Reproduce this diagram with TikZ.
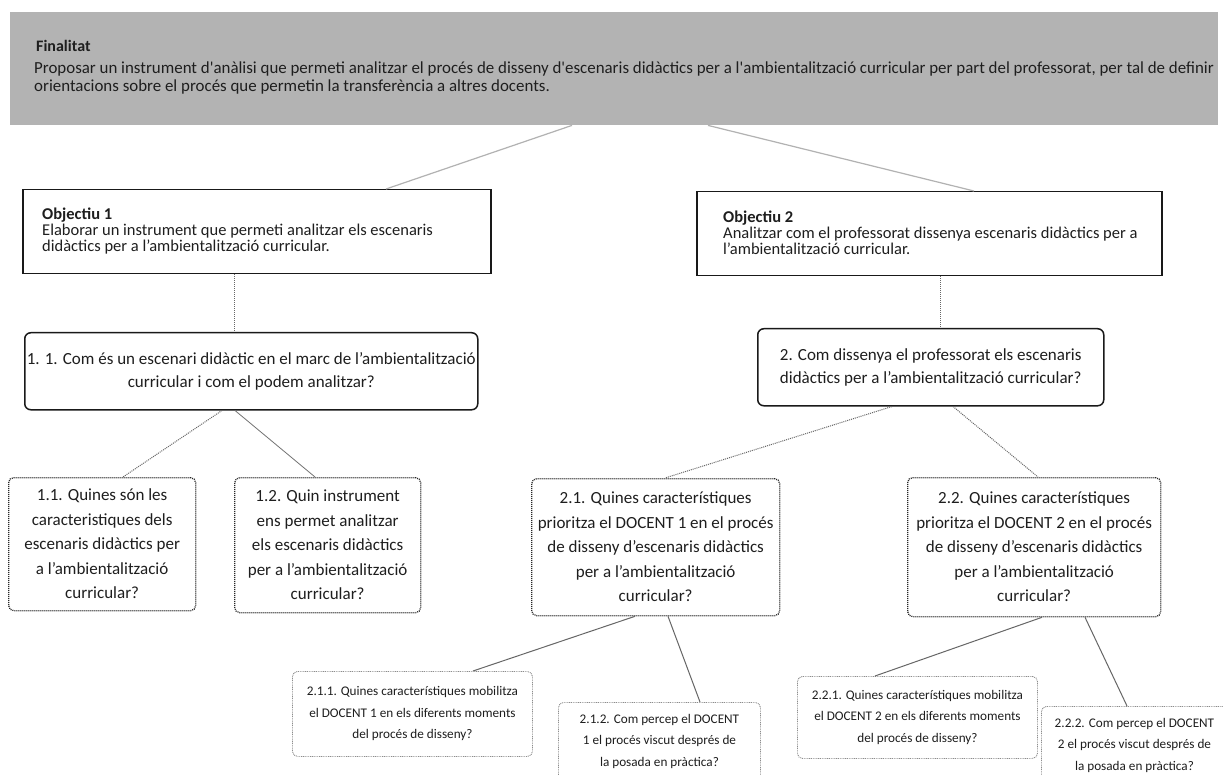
\documentclass[tikz,border=0pt]{standalone}
\usepackage{fontspec}
\setmainfont{Carlito}
\definecolor{bannergray}{RGB}{179,179,179}
\definecolor{txt}{RGB}{30,30,30}
\begin{document}
\begin{tikzpicture}[x=1pt,y=-1pt,
  every node/.style={text=txt},
  banner/.style={fill=bannergray, draw=none, anchor=north west, inner sep=0pt,
    minimum width=1208pt, minimum height=113pt},
  objbox/.style={draw=black!90, line width=1.5pt, anchor=north west, inner sep=0pt},
  objtext/.style={anchor=west, align=left, inner sep=0pt,
    font={\fontsize{16.5}{15.8}\selectfont}},
  qbox/.style={draw=black!90, line width=1.5pt, rounded corners=6pt, anchor=north west,
    align=center, inner sep=0pt, font={\fontsize{17}{23}\selectfont}},
  subbox/.style={draw=black!85, line width=1.3pt, dash pattern=on 1pt off 1pt,
    rounded corners=5pt, anchor=north west, align=center, inner sep=0pt,
    font={\fontsize{17}{24.5}\selectfont}},
  leafbox/.style={draw=black!45, line width=0.9pt, dash pattern=on 0.9pt off 0.9pt,
    rounded corners=5pt, anchor=north west, align=center, inner sep=0pt,
    font={\fontsize{13.2}{21.5}\selectfont}},
  lightlink/.style={draw=black!30, line width=1.2pt},
  dotlink/.style={draw=black!60, line width=1pt, dash pattern=on 1pt off 1pt},
  thinlink/.style={draw=black!55, line width=0.8pt},
  leaflink/.style={draw=black!60, line width=1pt}]

\useasboundingbox (0,0) rectangle (1223,775);
\fill[white] (0,0) rectangle (1223,775);
\clip (0,0) rectangle (1223,775);

% purpose banner
\node[banner] (fin) at (10,12) {};
\node[anchor=west, inner sep=0pt, font={\fontsize{16}{18}\bfseries\selectfont}] (fintitle) at (36,46) {Finalitat};
\node[anchor=north west, align=left, inner sep=0pt, font={\fontsize{16.9}{18}\selectfont}] (fintext) at (34,62)
  {Proposar un instrument d\textquotesingle anàlisi que permeti analitzar el procés de disseny d\textquotesingle escenaris didàctics per a l\textquotesingle ambientalització curricular per part del professorat, per tal de definir\\
   orientacions sobre el procés que permetin la transferència a altres docents.};

% objectives
\node[objbox, minimum width=468pt, minimum height=84pt] (obj1) at (22,189) {};
\node[objtext] (obj1txt) at (42,231) {\textbf{Objectiu 1}\\Elaborar un instrument que permeti analitzar els escenaris\\didàctics per a l’ambientalització curricular.};
\node[objbox, minimum width=465pt, minimum height=84pt] (obj2) at (696,191) {};
\node[objtext] (obj2txt) at (723,233) {\textbf{Objectiu 2}\\Analitzar com el professorat dissenya escenaris didàctics per a\\l’ambientalització curricular.};

% research questions
\node[qbox, minimum width=453pt, minimum height=77pt] (q1) at (24,332)
  {1. 1. Com és un escenari didàctic en el marc de l’ambientalització\\curricular i com el podem analitzar?};
\node[qbox, minimum width=346pt, minimum height=77pt] (q2) at (757,328)
  {2. Com dissenya el professorat els escenaris\\didàctics per a l’ambientalització curricular?};

% sub-questions
\node[subbox, minimum width=187pt, minimum height=133pt] (n11) at (8,477)
  {1.1. Quines són les\\caracteristiques dels\\escenaris didàctics per\\a l’ambientalització\\curricular?};
\node[subbox, minimum width=186pt, minimum height=135pt] (n12) at (234,477)
  {1.2. Quin instrument\\ens permet analitzar\\els escenaris didàctics\\per a l’ambientalització\\curricular?};
\node[subbox, minimum width=248pt, minimum height=137pt] (n21) at (531,478)
  {2.1. Quines característiques\\prioritza el DOCENT 1 en el procés\\de disseny d’escenaris didàctics\\per a l’ambientalització\\curricular?};
\node[subbox, minimum width=253pt, minimum height=139pt] (n22) at (907,477)
  {2.2. Quines característiques\\prioritza el DOCENT 2 en el procés\\de disseny d’escenaris didàctics\\per a l’ambientalització\\curricular?};

% leaf questions
\node[leafbox, minimum width=240pt, minimum height=85pt] (n211) at (292,671)
  {2.1.1. Quines característiques mobilitza\\el DOCENT 1 en els diferents moments\\del procés de disseny?};
\node[leafbox, minimum width=202pt, minimum height=78pt] (n212) at (558,702)
  {2.1.2. Com percep el DOCENT\\1 el procés viscut després de\\la posada en pràctica?};
\node[leafbox, minimum width=240pt, minimum height=82pt] (n221) at (797,676)
  {2.2.1. Quines característiques mobilitza\\el DOCENT 2 en els diferents moments\\del procés de disseny?};
\node[leafbox, minimum width=186pt, minimum height=78pt] (n222) at (1041,706)
  {2.2.2. Com percep el DOCENT\\2 el procés viscut després de\\la posada en pràctica?};

% connectors
\draw[lightlink] ([xshift=562pt]fin.south west) -- ([xshift=364pt]obj1.north west);
\draw[lightlink] ([xshift=698pt]fin.south west) -- ([xshift=278pt]obj2.north west);
\draw[dotlink] ([xshift=212pt]obj1.south west) -- ([xshift=210pt]q1.north west);
\draw[dotlink] ([xshift=244pt]obj2.south west) -- ([xshift=183pt]q2.north west);
\draw[dotlink] ([xshift=198pt]q1.south west) -- ([xshift=115pt]n11.north west);
\draw[thinlink] ([xshift=211pt]q1.south west) -- ([xshift=81pt]n12.north west);
\draw[dotlink] ([xshift=135pt]q2.south west) -- ([xshift=134pt]n21.north west);
\draw[dotlink] ([xshift=196pt]q2.south west) -- ([xshift=131pt]n22.north west);
\draw[leaflink] ([xshift=104pt]n21.south west) -- ([xshift=181pt]n211.north west);
\draw[leaflink] ([xshift=137pt]n21.south west) -- ([xshift=142pt]n212.north west);
\draw[leaflink] ([xshift=135pt]n22.south west) -- ([xshift=78pt]n221.north west);
\draw[leaflink] ([xshift=178pt]n22.south west) -- ([xshift=86pt]n222.north west);
\end{tikzpicture}
\end{document}
